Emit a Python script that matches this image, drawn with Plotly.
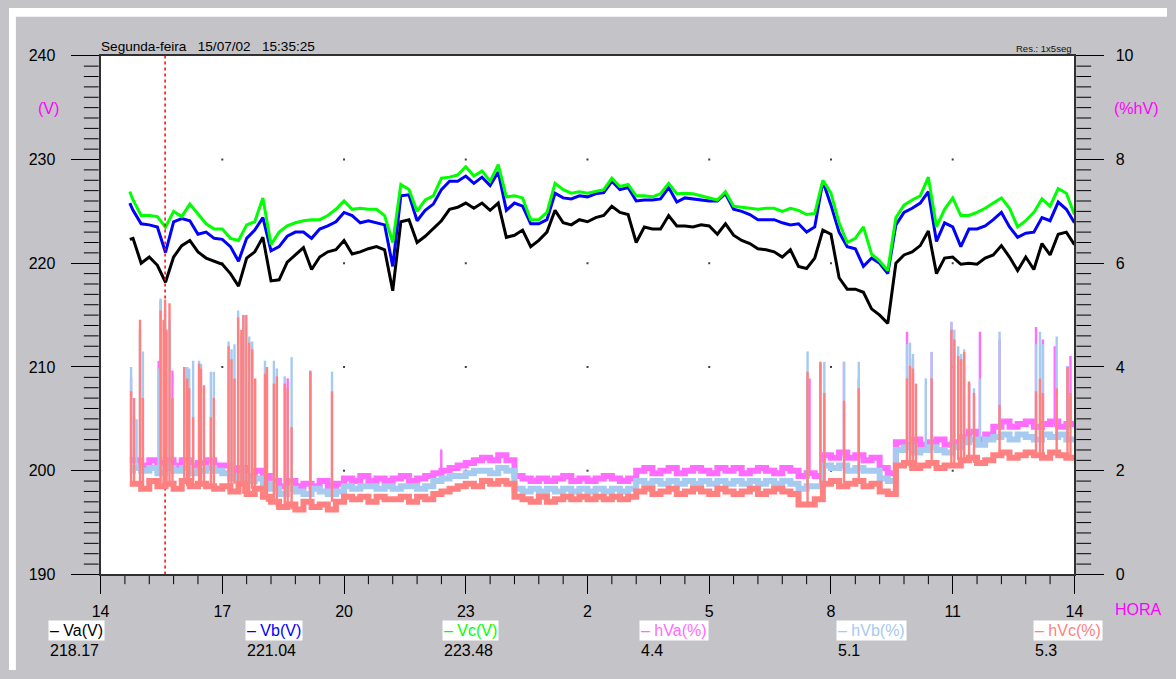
from datetime import datetime, timedelta

import plotly.graph_objects as go

# ---------------------------------------------------------------------------
# Data: one day of voltage / harmonic-distortion logging (hours, 24 = 0:00)
# ---------------------------------------------------------------------------
t = [14.72] + [round(14.8 + 0.2 * i, 2) for i in range(117)]

# phase voltages (V)
va = [222.3,
      222.4, 220.0, 220.6, 219.8, 218.17, 220.6, 221.7, 222.2, 221.1, 220.5,
      220.2, 219.9, 219.0, 217.8, 220.5, 221.1, 222.5, 218.3, 218.4, 220.1,
      220.8, 221.5, 219.4, 220.6, 221.1, 221.3, 222.2, 220.9, 221.1, 221.4,
      221.6, 221.3, 217.35, 224.0, 224.2, 222.0, 222.6, 223.4, 224.1, 225.2,
      225.4, 225.8, 225.3, 225.8, 225.1, 225.8, 222.5, 222.7, 223.2, 221.6,
      222.2, 223.0, 225.1, 223.9, 223.7, 224.2, 224.0, 224.4, 224.6, 225.5,
      224.9, 224.7, 222.0, 223.5, 223.3, 223.3, 224.6, 223.6, 223.6, 223.5,
      223.7, 223.6, 222.8, 223.8, 222.7, 222.2, 221.9, 221.4, 221.3, 221.1,
      220.6, 221.3, 219.7, 219.5, 220.5, 223.2, 222.8, 218.6, 217.5, 217.5,
      217.2, 215.6, 215.0, 214.2, 220.0, 220.8, 221.1, 221.7, 223.1, 219.0,
      220.5, 220.6, 219.9, 220.0, 219.9, 220.5, 220.8, 221.7, 220.6, 219.3,
      220.6, 219.4, 221.9, 220.8, 222.8, 223.0, 221.8]

vb = [225.8,
      225.1, 223.8, 223.7, 223.5, 221.04, 224.0, 224.3, 224.1, 222.8, 223.0,
      222.4, 222.3, 221.6, 220.2, 222.4, 223.2, 224.4, 221.2, 221.6, 222.6,
      223.0, 223.0, 222.4, 223.3, 223.6, 224.0, 224.9, 224.6, 223.9, 224.1,
      223.9, 223.7, 219.7, 226.5, 226.6, 224.1, 225.1, 225.7, 227.1, 227.9,
      227.9, 228.4, 227.7, 228.3, 227.5, 228.8, 225.1, 225.8, 225.5, 223.8,
      223.8, 224.2, 226.75, 226.3, 226.2, 226.5, 226.4, 226.7, 226.8, 227.9,
      227.1, 227.3, 226.0, 226.1, 226.1, 226.2, 227.3, 225.9, 226.3, 226.2,
      226.1, 226.0, 226.0, 226.7, 225.2, 225.0, 224.7, 224.2, 224.2, 224.2,
      223.9, 223.7, 223.8, 223.0, 223.5, 227.9, 225.6, 223.0, 221.6, 221.4,
      219.7, 220.5, 220.0, 219.0, 223.7, 224.9, 225.3, 225.8, 226.9, 222.1,
      223.9, 223.5, 221.6, 223.3, 223.3, 223.6, 224.2, 224.9, 223.5, 222.5,
      222.9, 223.0, 224.4, 224.1, 225.9, 225.2, 223.9]

vc = [226.9,
      226.1, 224.6, 224.6, 224.5, 223.48, 225.0, 224.5, 225.7, 224.7, 223.8,
      223.3, 223.3, 222.4, 222.2, 223.7, 224.0, 226.3, 221.8, 223.0, 223.6,
      223.9, 224.1, 224.2, 224.2, 224.6, 225.2, 226.0, 225.2, 225.3, 225.2,
      225.2, 224.6, 222.0, 227.6, 227.1, 225.0, 226.1, 226.5, 228.2, 228.3,
      228.5, 229.3, 228.4, 228.9, 227.9, 229.5, 226.4, 226.5, 226.3, 224.2,
      224.2, 224.9, 227.7, 227.1, 226.75, 226.9, 226.75, 226.9, 227.1, 228.2,
      227.4, 227.6, 226.5, 226.5, 226.4, 226.7, 227.7, 226.7, 226.75, 226.7,
      226.5, 226.3, 226.1, 226.9, 225.5, 225.4, 225.3, 225.2, 225.3, 225.3,
      225.0, 225.3, 225.1, 224.7, 224.8, 228.0, 226.75, 223.9, 222.0, 222.4,
      223.5, 220.9, 220.2, 219.3, 224.4, 225.6, 226.1, 226.5, 228.3, 223.5,
      225.2, 226.3, 224.6, 224.6, 224.9, 225.3, 225.8, 226.3, 225.3, 223.5,
      224.1, 224.9, 226.2, 225.5, 227.2, 226.75, 224.7]

# harmonic distortion per phase (%), background level
hva = [2.2,
       2.2, 2.1, 2.2, 2.15, 2.2, 2.1, 2.2, 2.1, 2.15, 2.2,
       2.1, 2.1, 1.95, 2.05, 1.9, 2.0, 1.9, 1.8, 1.7, 1.8,
       1.7, 1.75, 1.7, 1.8, 1.7, 1.75, 1.85, 1.8, 1.9, 1.8,
       1.85, 1.8, 1.85, 1.9, 1.8, 1.85, 1.9, 1.95, 2.0, 2.05,
       2.1, 2.15, 2.2, 2.25, 2.2, 2.3, 2.2, 1.9, 1.85, 1.8,
       1.85, 1.8, 1.85, 1.9, 1.8, 1.85, 1.8, 1.85, 1.9, 1.85,
       1.8, 1.85, 2.0, 2.05, 1.95, 2.0, 2.05, 1.95, 2.0, 2.05,
       2.0, 1.95, 2.05, 2.0, 2.05, 1.95, 2.0, 2.05, 2.0, 1.95,
       2.05, 2.0, 1.9, 1.95, 1.9, 2.3, 2.25, 2.35, 2.25, 2.3,
       2.2, 2.25, 2.05, 1.95, 2.55, 2.5, 2.6, 2.5, 2.55, 2.6,
       2.5, 2.55, 2.65, 2.75, 2.6, 2.7, 2.85, 2.95, 2.85, 2.9,
       2.95, 2.85, 2.9, 2.95, 2.85, 2.9, 2.85]

hvb = [2.0,
       2.05, 2.0, 2.05, 1.95, 2.05, 2.0, 2.05, 1.95, 2.0, 2.05,
       2.0, 1.95, 1.85, 1.9, 1.8, 1.85, 1.75, 1.65, 1.55, 1.65,
       1.6, 1.55, 1.65, 1.6, 1.55, 1.6, 1.7, 1.65, 1.7, 1.7,
       1.65, 1.7, 1.65, 1.7, 1.7, 1.65, 1.7, 1.8, 1.85, 1.9,
       1.9, 1.95, 2.0, 2.0, 1.95, 2.05, 2.0, 1.65, 1.6, 1.65,
       1.6, 1.65, 1.6, 1.65, 1.6, 1.65, 1.6, 1.65, 1.6, 1.65,
       1.6, 1.65, 1.8, 1.75, 1.8, 1.75, 1.8, 1.75, 1.8, 1.75,
       1.8, 1.75, 1.8, 1.75, 1.8, 1.75, 1.8, 1.75, 1.8, 1.75,
       1.8, 1.75, 1.65, 1.7, 1.7, 2.1, 2.05, 2.1, 2.0, 2.05,
       2.0, 2.0, 1.85, 1.8, 2.4, 2.45, 2.35, 2.4, 2.45, 2.4,
       2.35, 2.45, 2.55, 2.6, 2.5, 2.6, 2.65, 2.7, 2.6, 2.7,
       2.65, 2.6, 2.7, 2.65, 2.7, 2.6, 2.65]

hvc = [1.75,
       1.75, 1.65, 1.8, 1.7, 1.75, 1.65, 1.8, 1.7, 1.75, 1.7,
       1.65, 1.7, 1.6, 1.75, 1.55, 1.65, 1.5, 1.4, 1.3, 1.35,
       1.25, 1.4, 1.3, 1.35, 1.25, 1.4, 1.5, 1.45, 1.5, 1.4,
       1.5, 1.45, 1.45, 1.5, 1.4, 1.5, 1.45, 1.55, 1.6, 1.65,
       1.7, 1.75, 1.7, 1.8, 1.75, 1.8, 1.75, 1.5, 1.45, 1.4,
       1.5, 1.4, 1.45, 1.5, 1.45, 1.5, 1.45, 1.5, 1.45, 1.5,
       1.45, 1.5, 1.6, 1.65, 1.55, 1.6, 1.65, 1.55, 1.6, 1.65,
       1.6, 1.55, 1.65, 1.6, 1.55, 1.6, 1.65, 1.55, 1.6, 1.65,
       1.6, 1.55, 1.35, 1.35, 1.45, 1.75, 1.8, 1.7, 1.75, 1.8,
       1.7, 1.75, 1.6, 1.55, 2.1, 2.15, 2.05, 2.1, 2.15, 2.05,
       2.1, 2.1, 2.2, 2.25, 2.15, 2.2, 2.3, 2.35, 2.25, 2.3,
       2.35, 2.3, 2.25, 2.35, 2.3, 2.25, 2.3]

# short harmonic bursts: time (h) and peak (%)
hva_spk_t = [14.752, 15.432, 15.48, 15.59, 15.771, 18.611, 19.169, 22.396,
             31.423, 31.472, 31.739, 32.321, 32.685, 33.874, 34.02, 34.481,
             34.967, 35.403, 35.67, 36.155, 37.053, 37.223, 37.514, 37.829,
             37.902]
hva_spk = [3.78, 4.12, 5.28, 4.4, 3.93, 3.78, 3.93, 2.41,
           3.78, 3.78, 4.06, 4.10, 3.78, 4.68, 4.15, 4.29,
           4.87, 3.68, 4.68, 4.53, 4.77, 4.53, 4.40, 4.02,
           4.21]

hvb_spk_t = [14.752, 14.825, 14.886, 14.971, 15.043, 15.432, 15.48, 15.59,
             15.699, 16.063, 16.135, 16.184, 16.281, 16.427, 16.475, 16.718,
             16.791, 17.155, 17.227, 17.3, 17.39, 17.47, 17.519, 17.664,
             17.737, 18.052, 18.271, 18.344, 18.538, 18.708, 19.169, 19.703,
             31.423, 31.739, 31.836, 32.321, 32.685, 33.874, 33.947, 34.02,
             34.336, 34.481, 34.967, 35.039, 35.136, 35.209, 35.282, 35.403,
             35.524, 35.67, 36.155, 37.053, 37.15, 37.223, 37.562, 37.829]
hvb_spk = [4.0, 3.03, 2.99, 4.72, 4.30, 3.97, 5.32, 5.1,
           4.91, 4.0, 4.0, 3.97, 4.12, 4.12, 4.06, 3.91,
           3.91, 4.49, 4.34, 4.44, 5.09, 4.62, 5.0, 4.59,
           4.49, 4.12, 4.12, 3.97, 3.82, 4.19, 3.87, 3.91,
           4.30, 4.10, 4.10, 4.10, 4.10, 4.44, 4.47, 4.25,
           3.78, 4.29, 4.87, 4.72, 4.40, 4.25, 4.34, 3.68,
           3.59, 3.78, 4.68, 4.44, 4.68, 4.44, 4.59, 4.02]

hvc_spk_t = [14.752, 14.825, 14.971, 15.043, 15.48, 15.553, 15.59, 15.626,
             15.699, 15.771, 16.063, 16.135, 16.184, 16.281, 16.427, 16.475,
             16.548, 16.718, 16.791, 17.155, 17.227, 17.3, 17.39, 17.47,
             17.519, 17.591, 17.664, 17.737, 17.81, 18.052, 18.101, 18.271,
             18.344, 18.538, 18.611, 18.708, 19.169, 19.703, 31.423, 31.739,
             31.836, 32.321, 32.685, 33.874, 33.947, 34.02, 34.093, 34.481,
             34.967, 35.039, 35.136, 35.209, 35.282, 35.403, 35.524, 36.155,
             37.053, 37.15, 37.223, 37.562, 37.829, 37.902]
hvc_spk = [3.53, 3.40, 4.91, 3.40, 5.09, 4.91, 5.3, 4.72,
           5.23, 3.40, 4.0, 3.78, 3.59, 3.03, 4.06, 3.97,
           3.65, 3.03, 3.40, 4.40, 4.15, 3.78, 4.96, 4.72,
           5.0, 5.0, 4.47, 4.34, 3.78, 3.87, 4.0, 3.68,
           3.82, 3.68, 3.59, 2.84, 3.91, 3.53, 3.91, 4.10,
           3.50, 3.35, 3.59, 3.78, 4.02, 3.97, 3.68, 3.78,
           4.72, 4.53, 4.21, 4.15, 4.29, 3.72, 3.50, 3.27,
           3.53, 3.78, 3.50, 3.59, 4.0, 3.50]

# cursor position (Segunda-feira 15/07/02 15:35:25)
cursor_t = 15 + 35 / 60 + 25 / 3600

# axes
day0 = datetime(2002, 7, 15)
x_start, x_end = 14, 38
x_major_step, x_minor_step = 3, 0.6
v_min, v_max, v_major, v_minor = 190, 240, 10, 1
p_min, p_max, p_major, p_minor = 0, 10, 2, 0.2

# ---------------------------------------------------------------------------
# Page geometry (pixels): plotting frame and the window around it
W, H = 1176, 679
FL, FR, FT, FB = 93, 1082, 49, 581
FW, FH = FR - FL, FB - FT
FONT = "Liberation Sans, Arial, sans-serif"
GRAY = "#c4c3c7"

C_VA, C_VB, C_VC = "#000000", "#0000ff", "#00ff00"
C_HVA, C_HVB, C_HVC = "#ff6cff", "#a6caf0", "#ff8080"
HOUR_MS = 3600 * 1000


def ts(h):
    return None if h is None else day0 + timedelta(hours=h)


def px(x):
    return x / W


def py(y):
    return 1 - y / H


def frac(v, lo, hi):
    return (v - lo) / (hi - lo)


def nearest(seq, v):
    return min(range(len(seq)), key=lambda k: abs(seq[k] - v))


def steps(lo, hi, step):
    n = int(round((hi - lo) / step))
    return [round(lo + step * i, 4) for i in range(n + 1)]


def is_major(v, lo, step):
    r = (v - lo) / step
    return abs(r - round(r)) < 1e-6


T = [ts(h) for h in t]

fig = go.Figure()

# --- window furniture in pixel space (bottom subplot x/y) -----------------
def rect(x0, y0, x1, y1, color):
    fig.add_trace(go.Scatter(x=[x0, x1, x1, x0, x0], y=[y0, y0, y1, y1, y0],
                             mode="lines", fill="toself", fillcolor=color,
                             line=dict(width=0, color=color),
                             hoverinfo="skip"))


rect(0, 0, W, 9, "#ffffff")        # white strip along the top
rect(0, 0, 7, H, "#ffffff")        # white strip along the left
rect(FL, FT, FR, FB, "#ffffff")    # plotting frame background

# minor tick marks on the three scales
mx, my = [], []
for v in steps(v_min, v_max, v_minor):
    if not is_major(v, v_min, v_major):
        yy = FB - frac(v, v_min, v_max) * FH
        mx += [76, 91, None]
        my += [yy, yy, None]
for v in steps(p_min, p_max, p_minor):
    if not is_major(v, p_min, p_major):
        yy = FB - frac(v, p_min, p_max) * FH
        mx += [1084, 1099, None]
        my += [yy, yy, None]
for xh in steps(x_start, x_end, x_minor_step):
    if not is_major(xh, x_start, x_major_step):
        xx = FL + frac(xh, x_start, x_end) * FW
        mx += [xx, xx, None]
        my += [582, 591, None]
fig.add_trace(go.Scatter(x=mx, y=my, mode="lines",
                         line=dict(color="#000000", width=1),
                         hoverinfo="skip"))

# --- measurements (subplot x2 / y2, y3) -----------------------------------
dot_x, dot_y = [], []
for xh in steps(x_start, x_end, x_major_step)[1:-1]:
    for yv in steps(v_min, v_max, v_major)[1:-1]:
        dot_x.append(ts(xh))
        dot_y.append(yv)
fig.add_trace(go.Scatter(x=dot_x, y=dot_y, mode="markers", xaxis="x2",
                         yaxis="y2",
                         marker=dict(symbol="square", size=2, color="#404040"),
                         hoverinfo="skip"))


def harmonic(base, spk_t, spk_v, color):
    fig.add_trace(go.Scatter(x=T, y=base, mode="lines", xaxis="x2",
                             yaxis="y3",
                             line=dict(color=color, width=6, shape="hv"),
                             hoverinfo="skip"))
    sx, sy = [], []
    for tt, vs in zip(spk_t, spk_v):
        b = base[nearest(t, tt)]
        sx += [ts(tt), ts(tt), None]
        sy += [b, vs, None]
    fig.add_trace(go.Scatter(x=sx, y=sy, mode="lines", xaxis="x2",
                             yaxis="y3", line=dict(color=color, width=2.4),
                             hoverinfo="skip"))


harmonic(hva, hva_spk_t, hva_spk, C_HVA)
harmonic(hvb, hvb_spk_t, hvb_spk, C_HVB)
harmonic(hvc, hvc_spk_t, hvc_spk, C_HVC)

for series, color in ((va, C_VA), (vb, C_VB), (vc, C_VC)):
    fig.add_trace(go.Scatter(x=T, y=series, mode="lines", xaxis="x2",
                             yaxis="y2", line=dict(color=color, width=3),
                             hoverinfo="skip"))

# cursor
fig.add_trace(go.Scatter(x=[ts(cursor_t), ts(cursor_t)], y=[v_min, v_max],
                         mode="lines", xaxis="x2", yaxis="y2",
                         line=dict(color="#ff0000", width=1.5,
                                   dash="3px,3px"),
                         hoverinfo="skip"))

tick_common = dict(ticks="outside", tickcolor="#000000", tickwidth=1,
                   tickfont=dict(family=FONT, size=16, color="#000000"),
                   showgrid=False, zeroline=False, showline=True,
                   linecolor="#303030", linewidth=2, fixedrange=True)
x_dom = [px(FL), px(FR)]
y_dom = [py(FB), py(FT)]

fig.update_layout(
    width=W, height=H,
    margin=dict(l=0, r=0, t=0, b=0, pad=0),
    paper_bgcolor=GRAY, plot_bgcolor="rgba(0,0,0,0)",
    showlegend=False, hovermode=False,
    xaxis=dict(domain=[0, 1], range=[0, W], visible=False, fixedrange=True),
    yaxis=dict(domain=[0, 1], range=[H, 0], visible=False, fixedrange=True),
    xaxis2=dict(domain=x_dom, anchor="y2", type="date",
                range=[ts(x_start), ts(x_end)],
                tickmode="linear", tick0=ts(x_start),
                dtick=x_major_step * HOUR_MS, tickformat="%-H",
                ticklen=18, mirror=True, ticklabelstandoff=3,
                **tick_common),
    yaxis2=dict(domain=y_dom, anchor="x2", range=[v_min, v_max],
                tickmode="linear", tick0=v_min, dtick=v_major,
                ticklen=28, ticklabelstandoff=12, **tick_common),
    yaxis3=dict(range=[p_min, p_max], tickmode="linear", tick0=p_min,
                dtick=p_major, overlaying="y2", side="right", anchor="x2",
                ticklen=28, ticklabelstandoff=8, **tick_common),
)

ann = []


def text(x, y, s, color="#000000", size=16, xanchor="left", bg=None):
    d = dict(xref="paper", yref="paper", x=px(x), y=py(y), text=s,
             showarrow=False, xanchor=xanchor, yanchor="middle",
             font=dict(family=FONT, size=size, color=color))
    if bg:
        d.update(bgcolor=bg, borderpad=1)
    ann.append(d)


text(91, 40, "Segunda-feira&nbsp;&nbsp;&nbsp;15/07/02&nbsp;&nbsp;&nbsp;15:35:25",
     size=13.6)
text(1081, 42, "Res.: 1x5seg", size=9.5, xanchor="right", color="#101010")
text(53, 103, "(V)", color="#ff00ff", xanchor="right")
text(1120, 103, "(%hV)", color="#ff00ff")
text(1121, 617, "HORA", color="#ff00ff")

# cursor readings
k = nearest(t, cursor_t)
readings = [
    ("Va(V)", C_VA, f"{va[k]:.2f}"),
    ("Vb(V)", C_VB, f"{vb[k]:.2f}"),
    ("Vc(V)", C_VC, f"{vc[k]:.2f}"),
    ("hVa(%)", C_HVA, f"{hva_spk[nearest(hva_spk_t, cursor_t)]:.1f}"),
    ("hVb(%)", C_HVB, f"{hvb_spk[nearest(hvb_spk_t, cursor_t)]:.1f}"),
    ("hVc(%)", C_HVC, f"{hvc_spk[nearest(hvc_spk_t, cursor_t)]:.1f}"),
]
for j, (name, color, val) in enumerate(readings):
    x0 = 40 + 200 * j
    text(x0, 638, "– " + name, color=color, bg="#ffffff")
    text(x0, 659, val)

fig.update_layout(annotations=ann)

fig.write_html("out.html")
